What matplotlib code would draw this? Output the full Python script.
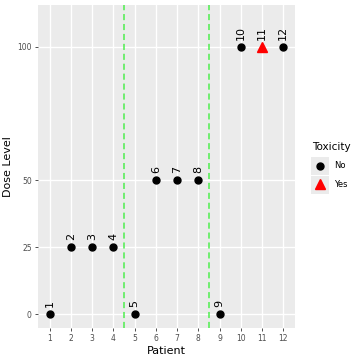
import numpy as np
import matplotlib
matplotlib.use("Agg")
import matplotlib.pyplot as plt
from matplotlib.lines import Line2D
from matplotlib.patches import Rectangle

patients = [1, 2, 3, 4, 5, 6, 7, 8, 9, 10, 11, 12]
dose = [0, 25, 25, 25, 0, 50, 50, 50, 0, 100, 100, 100]
toxicity = ["No", "No", "No", "No", "No", "No", "No", "No", "No", "No", "Yes", "No"]
y_ticks = [0, 25, 50, 100]
cohort_breaks = [4.5, 8.5]
legend_labels = ["No", "Yes"]
legend_styles = {"No": ("o", "black", 5), "Yes": ("^", "red", 6.5)}

fig = plt.figure(figsize=(3.6, 3.6), dpi=100)
ax = fig.add_axes([38 / 360, 32 / 360, 257 / 360, 323 / 360])
ax.set_facecolor("#EBEBEB")
for s in ax.spines.values():
    s.set_visible(False)

ax.set_xlim(0.45, 12.55)
ax.set_ylim(-5.2, 115.6)
ax.set_xticks(patients)
ax.set_yticks(y_ticks)
ax.grid(True, color="white", linewidth=1.0)
ax.set_axisbelow(True)
ax.tick_params(colors="#4D4D4D", labelsize=5.5, length=2.5, width=0.6, pad=2)
ax.tick_params(axis="both", color="#333333")

for xb in cohort_breaks:
    ax.axvline(xb, color="#4EEE4E", linestyle=(0, (4, 2.5)), linewidth=1.1, zorder=2)

for p, d, t in zip(patients, dose, toxicity):
    m, c, ms = legend_styles[t]
    ax.plot(p, d, marker=m, color=c, markersize=ms, zorder=3, linestyle="none")
    ax.annotate(str(p), (p, d), xytext=(0, 5), textcoords="offset points",
                rotation=90, ha="center", va="bottom", fontsize=8, color="black")

ax.set_xlabel("Patient", fontsize=8, labelpad=2)
ax.set_ylabel("Dose Level", fontsize=8, labelpad=3)

# ggplot-like legend with grey key boxes
def px(x, y):
    return x / 360, 1 - y / 360

fig.text(*px(312, 147), "Toxicity", fontsize=7.5, ha="left", va="center")
for i, lab in enumerate(legend_labels):
    top = 157 + i * 18.5
    x0, y0 = px(311, top + 18)
    fig.add_artist(Rectangle((x0, y0), 18 / 360, 18 / 360, transform=fig.transFigure,
                             facecolor="#EBEBEB", edgecolor="none"))
    m, c, ms = legend_styles[lab]
    cx, cy = px(320, top + 9)
    fig.add_artist(Line2D([cx], [cy], marker=m, color=c, markersize=ms,
                          linestyle="none", transform=fig.transFigure))
    fig.text(*px(334, top + 9), lab, fontsize=6, ha="left", va="center")

fig.savefig("out.png", dpi=100)
